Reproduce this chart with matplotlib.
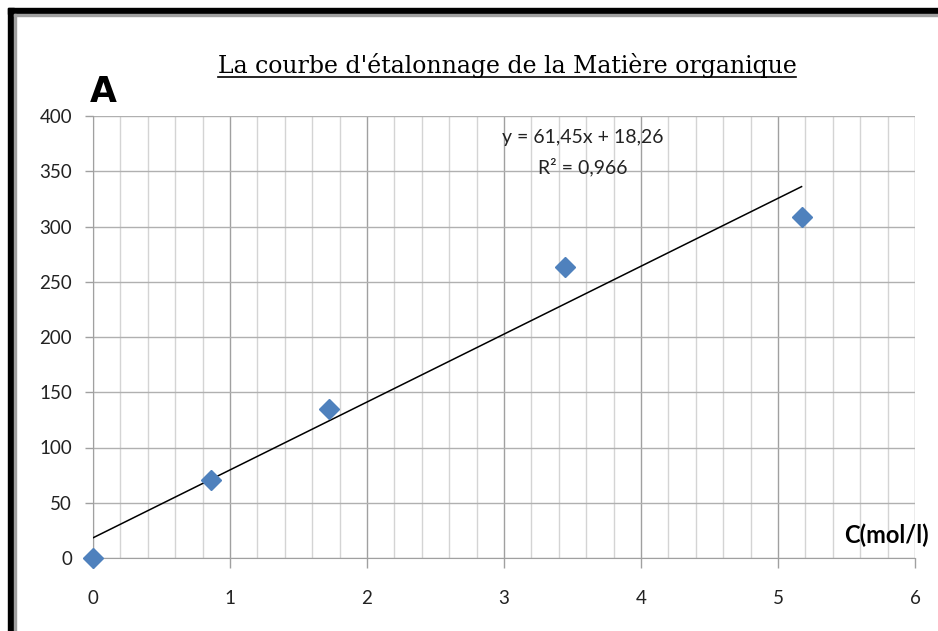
import numpy as np
import matplotlib.pyplot as plt
from matplotlib.lines import Line2D
from matplotlib.patches import Rectangle
from matplotlib.ticker import MultipleLocator

# concentration C (mol/l) and absorbance readings
conc = [0.0, 0.862, 1.724, 3.448, 5.172]
absorb = [0.0, 71.0, 135.0, 263.0, 309.0]
slope, intercept = 61.45, 18.26
eq_text = "y = 61,45x + 18,26"
r2_text = "R² = 0,966"

plt.rcParams['font.family'] = ['Lato', 'DejaVu Sans']

fig = plt.figure(figsize=(9.38, 6.31), dpi=100)
ax = fig.add_axes([93/938, 1 - 558/631, (915-93)/938, (558-116)/631])

# frame of the pasted picture
fig.patches.append(Rectangle((8/938, 0), 6/938, 1 - 8/631, transform=fig.transFigure,
                             color='black', zorder=10))
fig.patches.append(Rectangle((8/938, 1 - 14/631), 1, 6/631, transform=fig.transFigure,
                             color='black', zorder=10))
fig.patches.append(Rectangle((14/938, 0), 2/938, 1 - 14/631, transform=fig.transFigure,
                             color='#a0a0a0', zorder=10))
fig.patches.append(Rectangle((14/938, 1 - 16/631), 1, 2/631, transform=fig.transFigure,
                             color='#a0a0a0', zorder=10))

# grid
ax.set_xlim(0, 6)
ax.set_ylim(0, 400)
ax.xaxis.set_major_locator(MultipleLocator(1))
ax.xaxis.set_minor_locator(MultipleLocator(0.2))
ax.yaxis.set_major_locator(MultipleLocator(50))
ax.grid(which='minor', axis='x', color='#d4d4d4', lw=1)
ax.grid(which='major', axis='x', color='#a0a0a0', lw=1)
ax.grid(which='major', axis='y', color='#b0b0b0', lw=1)
ax.set_axisbelow(True)
for side in ['top', 'right']:
    ax.spines[side].set_visible(False)
for side in ['left', 'bottom']:
    ax.spines[side].set_color('#a0a0a0')
ax.tick_params(axis='x', which='major', length=7, width=1, color='#a0a0a0', pad=16,
               labelsize=13.5, labelcolor='#222222')
ax.tick_params(axis='x', which='minor', length=0)
ax.tick_params(axis='y', length=6, width=1, color='#a0a0a0', pad=9,
               labelsize=13.5, labelcolor='#222222')

# trendline
xs = np.array([0, max(conc)])
ax.plot(xs, slope * xs + intercept, color='black', lw=1.1, zorder=3)
ax.plot(conc, absorb, ls='none', marker='D', ms=10, color='#4f81bd', zorder=4, clip_on=False)

ax.text(583/938, 1 - 138/631, eq_text, transform=fig.transFigure, ha='center', va='center',
        fontsize=14, color='#222222')
ax.text(583/938, 1 - 167/631, r2_text, transform=fig.transFigure, ha='center', va='center',
        fontsize=14, color='#222222')

fig.text(90/938, 1 - 92/631, "A", fontsize=25, fontweight='bold', ha='left', va='center',
         family='DejaVu Sans')
fig.text(929/938, 1 - 535/631, "C(mol/l)", fontsize=17, fontweight='bold', ha='right',
         va='center')

title = fig.text(507/938, 1 - 65/631, "La courbe d'étalonnage de la Matière organique",
                 fontsize=17, ha='center', va='center', family='DejaVu Serif')
fig.canvas.draw()
bb = title.get_window_extent().transformed(fig.transFigure.inverted())
fig.add_artist(Line2D([bb.x0, bb.x1], [bb.y0 + 1/631, bb.y0 + 1/631], color='black', lw=1.2,
                      transform=fig.transFigure))

fig.savefig("out.png", dpi=100)
